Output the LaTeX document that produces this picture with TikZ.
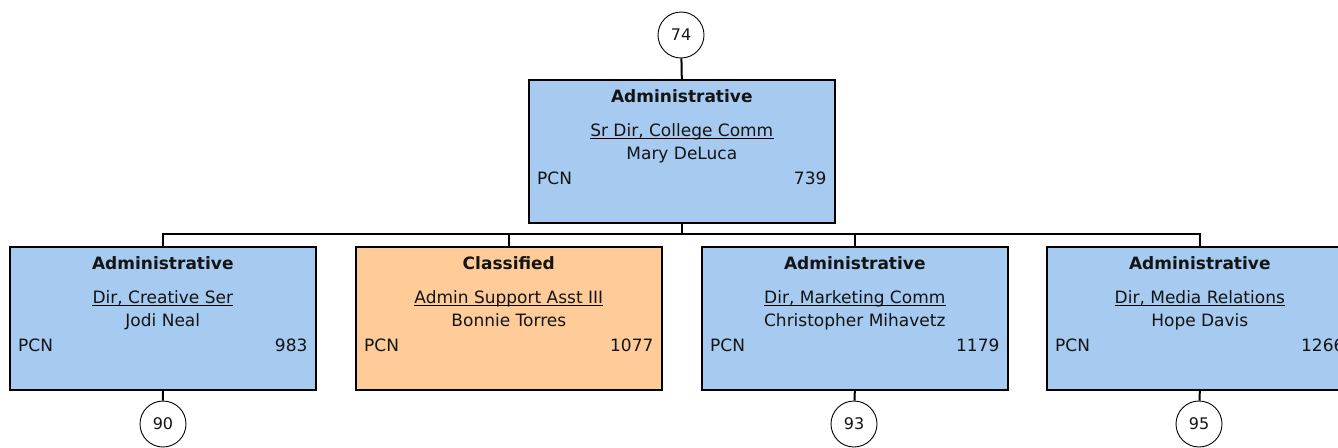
\documentclass[tikz,border=0pt]{standalone}
\usepackage{fontspec}
\setmainfont{DejaVu Sans}
\usetikzlibrary{calc}
\definecolor{boxblue}{RGB}{166,202,240}
\definecolor{boxorange}{RGB}{255,204,153}
\definecolor{txtcol}{RGB}{20,20,20}
\tikzset{
  orgbox/.style={draw=black, line width=1.6pt, minimum width=306pt, minimum height=143pt, inner sep=0pt, anchor=north west, rectangle},
  txt/.style={inner sep=0pt, anchor=base, text=txtcol, font=\fontsize{17}{20}\selectfont},
  cattxt/.style={txt, font=\fontsize{17}{20}\selectfont\bfseries},
  conn/.style={line width=2pt},
  numcirc/.style={draw, circle, minimum size=46pt, inner sep=0pt, line width=0.9pt, text=txtcol, font=\fontsize{16}{19}\selectfont},
}
\newcommand\orgunit[8]{%
  \node[orgbox, fill=#4] (#1) at (#2,#3) {};
  \node[cattxt] (#1-cat) at ($(#1.north)+(0,23)$) {#5};
  \node[txt] (#1-title) at ($(#1.north)+(0,57.5)$) {#6};
  \draw[line width=1pt] ($(#1-title.base west)+(0,2)$) -- ($(#1-title.base east)+(0,2)$);
  \node[txt] (#1-name) at ($(#1.north)+(0,80.5)$) {#7};
  \node[txt, anchor=base west] (#1-pcn) at ($(#1.north west)+(9,105)$) {PCN};
  \node[txt, anchor=base east] (#1-num) at ($(#1.north east)+(-9,105)$) {#8};
}
\begin{document}
\begin{tikzpicture}[x=1pt, y=-1pt]
  \useasboundingbox (0,0) rectangle (1338,447);
  \clip (0,0) rectangle (1338,447);
  \node[inner sep=0pt, anchor=base, font=\fontsize{44}{46}\selectfont\bfseries] (gfrag) at (361,-12) {g};

  \orgunit{top}{528}{79}{boxblue}{Administrative}{Sr Dir, College Comm}{Mary DeLuca}{739}
  \orgunit{b1}{9}{246}{boxblue}{Administrative}{Dir, Creative Ser}{Jodi Neal}{983}
  \orgunit{b2}{355}{246}{boxorange}{Classified}{Admin Support Asst III}{Bonnie Torres}{1077}
  \orgunit{b3}{701}{246}{boxblue}{Administrative}{Dir, Marketing Comm}{Christopher Mihavetz}{1179}
  \orgunit{b4}{1046}{246}{boxblue}{Administrative}{Dir, Media Relations}{Hope Davis}{1266}

  \node[numcirc] (c74) at (681,35) {74};
  \node[numcirc] (c90) at (163,424) {90};
  \node[numcirc] (c93) at (854,424) {93};
  \node[numcirc] (c95) at (1199,424) {95};

  \coordinate (bus) at (0,234);
  \draw[conn] (c74) -- (top.north);
  \draw[conn] (top.south) -- (top.south |- bus);
  \draw[conn] (b1.north) |- (b4.north |- bus) -- (b4.north);
  \draw[conn] (b2.north) -- (b2.north |- bus);
  \draw[conn] (b3.north) -- (b3.north |- bus);
  \draw[conn] (b1.south) -- (c90);
  \draw[conn] (b3.south) -- (c93);
  \draw[conn] (b4.south) -- (c95);
\end{tikzpicture}
\end{document}
